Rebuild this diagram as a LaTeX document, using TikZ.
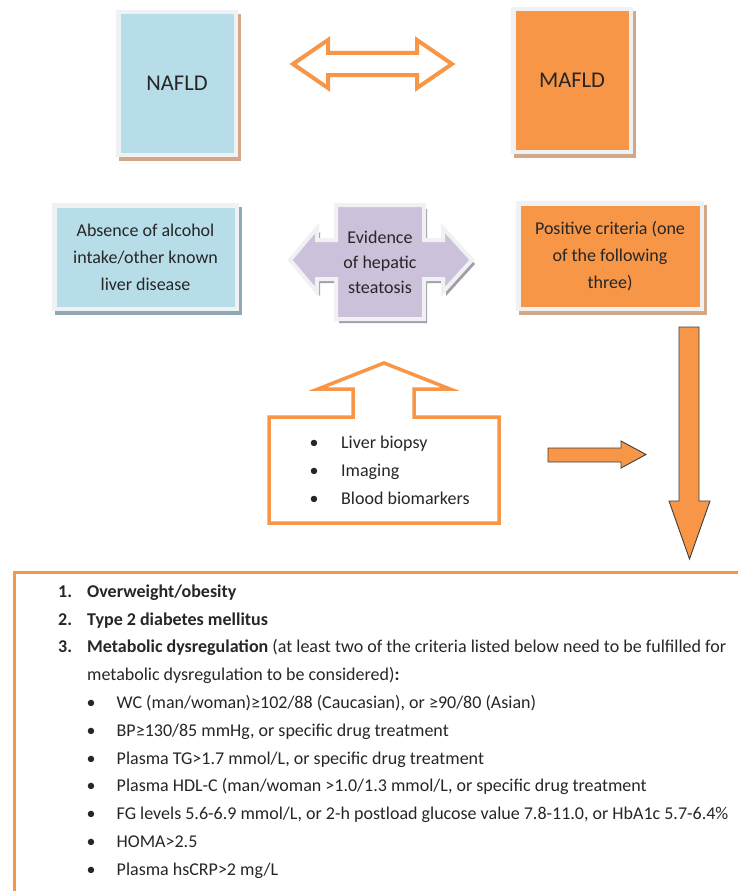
\documentclass[tikz,border=0pt]{standalone}
\usepackage{fontspec}
\setmainfont{Carlito}
\usepackage{tikz}
\usetikzlibrary{positioning,shadows,backgrounds,calc}
\def\boxinset{4.5pt}
\def\shadowx{3pt}
\def\shadowy{-4pt}
\def\rowsep{27.8}
\definecolor{aqua}{HTML}{B7DDE8}
\definecolor{tangerine}{HTML}{F79646}
\definecolor{lavender}{HTML}{CCC1DA}
\definecolor{bevel}{HTML}{F0F1F3}
\definecolor{tan}{HTML}{D2A888}
\definecolor{slate}{HTML}{8FA9B5}
\definecolor{mauve}{HTML}{A39DAB}
\definecolor{ink}{HTML}{262626}
\definecolor{rim}{HTML}{3F3F3F}

\begin{document}
\begin{tikzpicture}[x=1pt,y=-1pt,text=ink,
    fillinset/.style={path picture={\fill[#1]
        ([shift={(\boxinset,-\boxinset)}]path picture bounding box.north west) rectangle
        ([shift={(-\boxinset,\boxinset)}]path picture bounding box.south east);}},
    boxshadow/.style={drop shadow={shadow xshift=\shadowx,shadow yshift=\shadowy,fill=#1,opacity=1}}]
    \tikzstyle{annot}=[inner sep=0pt,font=\fontsize{18}{27}\selectfont]
    \tikzstyle{label box}=[rectangle,fill=bevel,inner sep=0pt,align=center,font=\fontsize{18}{27}\selectfont]
    \tikzstyle{title box}=[label box,minimum width=122pt,minimum height=147pt,font=\fontsize{22.5}{27}\selectfont]
    \tikzstyle{hollow arrow}=[draw=tangerine,fill=white,line width=3.5pt]
    \tikzstyle{solid arrow}=[draw=rim,fill=tangerine,line width=0.9pt]

    \useasboundingbox (0,0) rectangle (737,891);

    % Top row
    \node[title box,fillinset=aqua,boxshadow=tan] (nafld) at (177,83.5) {NAFLD};
    \node[title box,fillinset=tangerine,boxshadow=tan] (mafld) at (572,80.5) {MAFLD};
    \coordinate (swap) at (372.5,64);
    \draw[hollow arrow,line width=4pt,shift={(swap)}]
        (-79.5,0) -- (-44.5,-24) -- (-44.5,-11) -- (44.5,-11) -- (44.5,-24) -- (79.5,0)
        -- (44.5,24) -- (44.5,11) -- (-44.5,11) -- (-44.5,24) -- cycle;

    % Middle row
    \node[label box,fillinset=aqua,boxshadow=slate,minimum width=187pt,minimum height=108pt] (absence) at (145.5,257)
        {Absence of alcohol\\intake/other known\\liver disease};
    \node[label box,fillinset=tangerine,boxshadow=tan,minimum width=188pt,minimum height=110pt] (positive) at (610,256)
        {Positive criteria (one\\of the following\\three)};
    \node[annot,align=center,font=\fontsize{18}{25}\selectfont] (evidence) at (380,262) {Evidence\\of hepatic\\steatosis};
    \begin{scope}[on background layer]
        \draw[draw=bevel,fill=lavender,line width=4pt,boxshadow=mauve,shift={(evidence.center)}]
            (-44,-57) -- (44,-57) -- (44,-22) -- (63,-22) -- (63,-34) -- (92,-2) -- (63,30) -- (63,17)
            -- (44,17) -- (44,57) -- (-44,57) -- (-44,17) -- (-63,17) -- (-63,30) -- (-90,-2)
            -- (-63,-34) -- (-63,-22) -- (-44,-22) -- cycle;
    \end{scope}

    % Evidence callout
    \draw[hollow arrow] (269,417) -- (353,417) -- (353,389) -- (318,389) -- (384,363) -- (450,389)
        -- (414,389) -- (414,417) -- (499,417) -- (499,523) -- (269,523) -- cycle;
    \foreach \test [count=\i] in {Liver biopsy,Imaging,Blood biomarkers}
        \node[annot,anchor=base west] (test-\i) at (309.5,{448+(\i-1)*28}) {\makebox[31.5pt][l]{\textbullet}\test};

    % Arrows to the criteria
    \draw[solid arrow] (548,448) -- (621,448) -- (621,441) -- (646,454.5) -- (621,468) -- (621,462) -- (548,462) -- cycle;
    \draw[solid arrow] (679,327) -- (699,327) -- (699,501) -- (710,501) -- (689.5,559) -- (669,501) -- (679,501) -- cycle;

    % Criteria frame
    \draw[tangerine,line width=3pt] (14,900) -- (14,572.5) -- (745,572.5);
    \node[annot,anchor=base west,font=\fontsize{18}{27}\selectfont\bfseries] (num-1) at (58,597.2) {1.};
    \node[annot,anchor=base west,font=\fontsize{18}{27}\selectfont\bfseries] (num-2) at (58,597.2+\rowsep) {2.};
    \node[annot,anchor=base west,font=\fontsize{18}{27}\selectfont\bfseries] (num-3) at (58,597.2+2*\rowsep) {3.};
    \node[annot,anchor=base west] (crit-a) at (87,597.2) {\textbf{Overweight/obesity}};
    \node[annot,anchor=base west] (crit-b) at (87,597.2+\rowsep) {\textbf{Type 2 diabetes mellitus}};
    \node[annot,anchor=base west] (crit-c) at (87,597.2+2*\rowsep)
        {\textbf{Metabolic dysregulation} (at least two of the criteria listed below need to be fulfilled for};
    \node[annot,anchor=base west] (crit-d) at (87,597.2+3*\rowsep) {metabolic dysregulation to be considered)\textbf{:}};
    \foreach \crit [count=\i] in {{WC (man/woman)≥102/88 (Caucasian), or ≥90/80 (Asian)},
            {BP≥130/85 mmHg, or specific drug treatment},
            {Plasma TG>1.7 mmol/L, or specific drug treatment},
            {Plasma HDL-C (man/woman >1.0/1.3 mmol/L, or specific drug treatment},
            {FG levels 5.6-6.9 mmol/L, or 2-h postload glucose value 7.8-11.0, or HbA1c 5.7-6.4\%},
            {HOMA>2.5},
            {Plasma hsCRP>2 mg/L}}
    {
        \node[annot,anchor=base] (dot-\i) at (91,{597.2+(\i+3)*\rowsep}) {\textbullet};
        \node[annot,anchor=base west] (item-\i) at (116.5,{597.2+(\i+3)*\rowsep}) {\crit};
    }
\end{tikzpicture}
\end{document}
